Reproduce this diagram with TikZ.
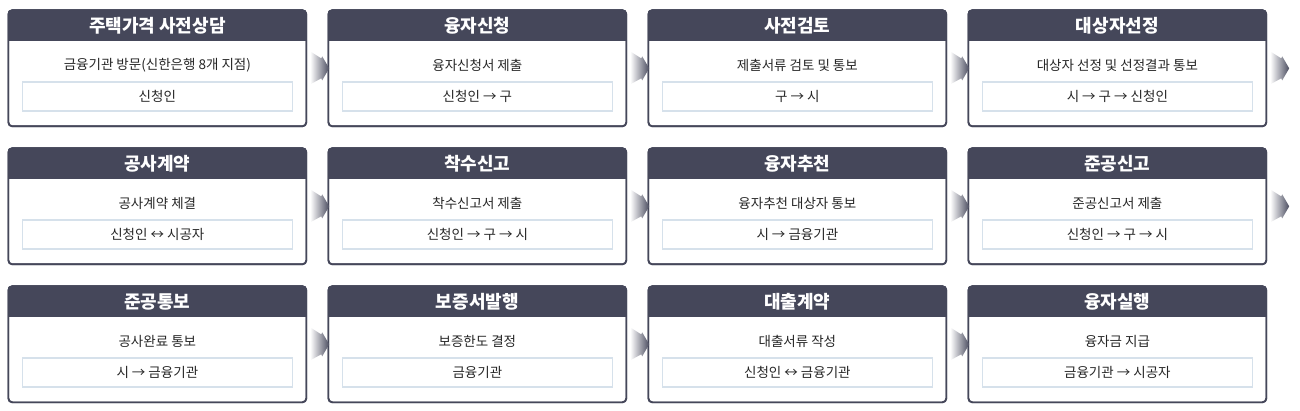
\documentclass[tikz,border=0pt]{standalone}
\usepackage{fontspec}
\setmainfont{Noto Sans CJK KR}
\usetikzlibrary{calc}
\definecolor{hdrc}{HTML}{45475A}
\definecolor{innerc}{HTML}{D6E1EB}
\definecolor{arrc}{HTML}{4B4D60}

\tikzset{
  card/.style={draw=hdrc, line width=1.7pt, rounded corners=4pt, minimum width=298pt,
    minimum height=116pt, inner sep=0pt, anchor=north west},
  title/.style={text=white, font=\fontsize{18}{20}\selectfont\bfseries},
  desc/.style={text=black!85, font=\fontsize{13.5}{15}\selectfont},
  who/.style={draw=innerc, line width=1.7pt, minimum width=270pt, minimum height=29pt,
    inner sep=0pt, text=black!85, font=\fontsize{13.5}{15}\selectfont},
  flow/.style={left color=white, right color=arrc, draw=none}
}

\begin{document}
\begin{tikzpicture}[x=1pt, y=-1pt]

    \useasboundingbox (0,0) rectangle (1300,411);

    \foreach \ttl/\dsc/\who [count=\i from 0] in {
      주택가격 사전상담/금융기관 방문(신한은행 8개 지점)/신청인,
      융자신청/융자신청서 제출/신청인 → 구,
      사전검토/제출서류 검토 및 통보/구 → 시,
      대상자선정/대상자 선정 및 선정결과 통보/시 → 구 → 신청인,
      공사계약/공사계약 체결/신청인 ↔ 시공자,
      착수신고/착수신고서 제출/신청인 → 구 → 시,
      융자추천/융자추천 대상자 통보/시 → 금융기관,
      준공신고/준공신고서 제출/신청인 → 구 → 시,
      준공통보/공사완료 통보/시 → 금융기관,
      보증서발행/보증한도 결정/금융기관,
      대출계약/대출서류 작성/신청인 ↔ 금융기관,
      융자실행/융자금 지급/금융기관 → 시공자}
    {
      \pgfmathsetmacro\cx{7.5+320*mod(\i,4)}
      \pgfmathsetmacro\cy{9.5+138*int(\i/4)}
      \node (b\i) [card] at (\cx,\cy) {};
      \begin{scope}
        \clip[rounded corners=4pt] (b\i.north west) rectangle (b\i.south east);
        \fill[hdrc] (b\i.north west) rectangle ($(b\i.north east)+(0,32)$);
      \end{scope}
      \node (b\i) [card] at (\cx,\cy) {};
      \node (t\i) [title] at ($(b\i.north)+(0,16)$) {\ttl};
      \node (d\i) [desc] at ($(b\i.north)+(0,56)$) {\dsc};
      \node (w\i) [who] at ($(b\i.north)+(0,87)$) {\who};
    }

    % chevrons between the cards
    \foreach \i in {0,...,10}
    {
      \coordinate (a\i) at ($(b\i.east)+(3,0)$);
      \shade[flow] (a\i) ++(0,-17) -- ++(11,7) -- ++(1,-2) -- ++(7,12)
        -- ++(-7,12) -- ++(-1,-2) -- ++(-11,6) -- cycle;
    }

  \end{tikzpicture}
\end{document}
